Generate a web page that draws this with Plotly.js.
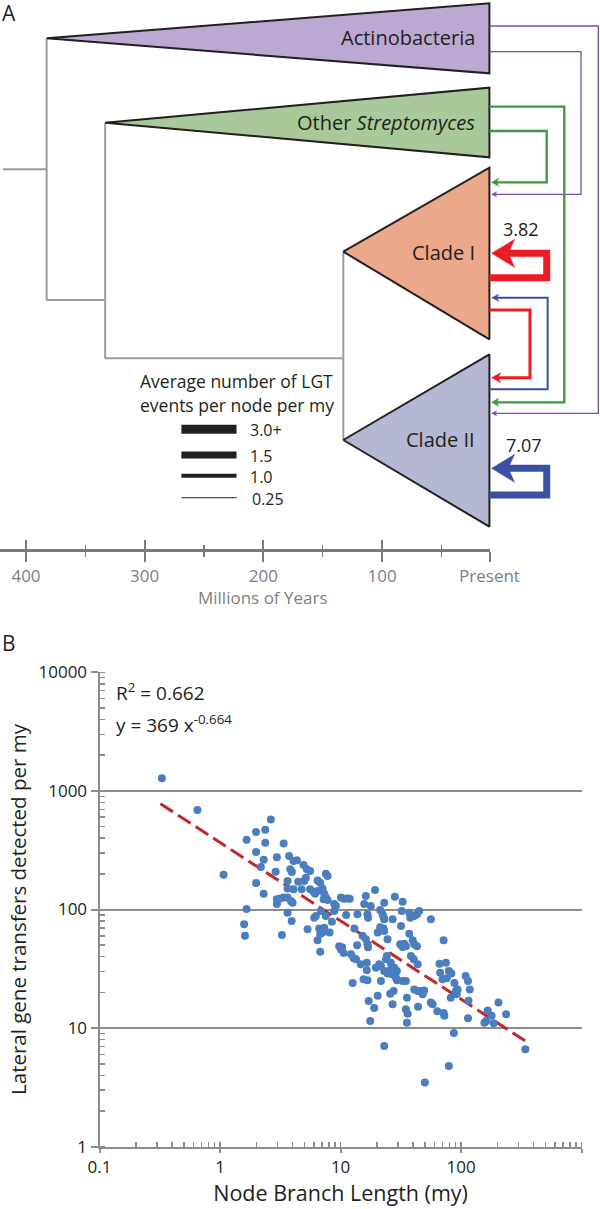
<!DOCTYPE html>
<html><head><meta charset="utf-8">
<script src="https://cdn.plot.ly/plotly-3.0.1.min.js"></script>
<style>html,body{margin:0;padding:0;background:#fff}#chart{width:600px;height:1209px}</style>
</head><body><div id="chart"></div>
<script>
// ---------------- Panel A : time-calibrated tree (x in millions of years) ----------------
const cladeNames = ['Actinobacteria', 'Other <i>Streptomyces</i>', 'Clade I', 'Clade II'];
const cladeFill = ['#BBA9D4', '#A9C99B', '#ECA88A', '#B4B8D2'];
const cladeOriginMy = [382.6, 333.3, 132.6, 132.6];
const presentMy = 9.5;
const cladeTop = [3.3, 87.7, 167.7, 354.3];
const cladeMid = [38.3, 122.7, 251.7, 440];
const cladeBottom = [73.3, 157.3, 339.3, 526.7];
const cladeLabelY = [37.5, 122, 252, 439];

const rootStubMy = 419.4, rootMy = 382.6, strepNodeMy = 333.3, cladeNodeMy = 132.6;
const treeX = [rootStubMy, rootMy, null, rootMy, rootMy, null, rootMy, strepNodeMy, null,
               strepNodeMy, strepNodeMy, null, strepNodeMy, cladeNodeMy, null, cladeNodeMy, cladeNodeMy];
const treeY = [169.3, 169.3, null, 38.3, 300, null, 300, 300, null,
               122.7, 358.3, null, 358.3, 358.3, null, 251.7, 440];

// lateral gene transfer arrows (donor row -> recipient row)
const lgtFromY = [26, 51.7, 106.7, 131, 277.7, 389.3, 310, 495];
const lgtToY = [413.3, 194.3, 402.3, 182.3, 253.3, 297.7, 377.7, 468.3];
const lgtElbowMy = [-82.3, -67.7, -53.6, -38.8, -38.8, -39.6, -24.7, -38.8];
const lgtColor = ['#7B4CA5', '#7B4CA5', '#3C9A3A', '#3C9A3A', '#EC1C24', '#3D4FA2', '#EC1C24', '#3D4FA2'];
const lgtWidth = [1.3, 1.3, 2.3, 2.3, 7, 2, 3, 7];
const lgtHeadLen = [5, 5, 7, 7, 23, 7, 9, 23];
const lgtHeadHalf = [2.5, 2.5, 4, 4, 14, 3.5, 5, 14];
const arrowTipMy = 7.6;
const selfRateText = ['3.82', '7.07'];
const selfRateY = [229, 445];
const selfRateMy = [-17.3, -19.8];

const legendRates = ['3.0+', '1.5', '1.0', '0.25'];
const legendWidths = [9, 7, 4, 1];
const legendY = [429.3, 455, 475.7, 497.7];
const legendLineMy = [269.05, 222.6];
const legendLabelMy = [212.1, 212.1, 212.1, 210.0];

const timeTicks = [400, 300, 200, 100, presentMy];
const timeTickText = ['400', '300', '200', '100', 'Present'];
const timeMinor = [350, 250, 150, 50];

// ---------------- Panel B : scatter (log-log) ----------------
const branchLength = [
 0.329,0.65,2.64,1.99,2.37,1.66,2.37,1.99,2.30,2.18,1.07,1.99,2.30,1.66,1.585,1.61,
 3.37,2.96,3.74,4.07,4.34,4.93,2.89,3.82,3.94,5.25,5.59,5.15,4.99,7.55,7.8,3.63,4.45,6.44,6.77,3.63,
 4.07,4.75,5.59,5.97,6.44,7.09,7.31,6.15,7.55,7.8,2.96,3.15,3.37,3.63,3.87,4.0,2.96,7.23,8.85,9.14,
 10.06,10.7,11.4,11.9,16.2,15.7,17.8,3.63,6.86,6.24,6.04,7.55,8.85,11.1,13.8,16.7,16.9,3.93,
 3.26,5.32,6.64,7.31,7.09,6.77,8.11,6.44,6.77,8.47,9.73,10.06,10.6,10.3,13,13.7,12.2,12.8,13.4,
 15.2,16.2,16.7,16.9,14.7,16.5,12.6,15.5,16.7,16.5,17.1,17.6,
 19.3,23,28.2,32.7,21.3,22.3,22.7,23,27,32.1,37.1,37.8,40.8,43,44.9,56.1,31.7,21.3,22.7,
 20.3,23,24.5,37.1,31.2,33.7,32.7,34.8,39.6,40.8,43,24.2,23.8,38.3,40.4,43.6,20.9,21.6,19.6,26.1,
 26.1,27.9,29.3,28.3,23,24.5,21.6,26.6,28.8,29.3,32.7,34.8,40.8,43.6,46.4,47.9,49.4,27.5,25.8,20.3,
 35.5,27,34.8,36,56,58,63.4,71.5,72.5,19,35.5,23,50,79,87,114,66.1,74.8,67,79,83,70,88,90.5,93.4,
 92,82,109,114,118,71.5,115,43.9,76,
 166,161,156,179,186,204,236,341];
const transfersPerMy = [
 1277,690,575,450,471,388,366,305,263,228,196,167,136,101,75,60,
 361,276,282,256,260,237,208,218,207,218,211,185,174,200,192,174,171,176,168,150,
 148,148,148,141,143,150,136,136,126,120,122,124,126,126,118,114,111,122,111,107,
 126,123,124,123,130,111,107,94,97,88,85,88,97,90,91,91,85,80,
 61,68,69,70,64,62,64,55,44,79,49,46,43,48,69,50,42,39,38,
 60,56,51,48,34.5,35.6,24,25.8,25.3,30.7,16.9,11.5,
 146,114,128,116,99,91,86.5,82.7,82.6,97,94,85,88,91,97,82.6,72.6,71,69,
 64,66,56,62.5,51,51.5,48.3,49,55,51,49,40.5,38,40.5,38,34.5,34.5,33.4,32.3,35.6,
 31.3,32.3,30.3,28.4,30.3,28.8,25,28.4,26.6,25.3,25,25,21.2,20.6,20.6,19.3,20.8,20.6,19.5,18.7,
 18,15.9,14.4,13.2,16.4,15.9,13.9,13.4,12.7,14.8,11.1,7.06,3.47,4.8,9.1,12.1,34.9,35.6,29.3,30.3,28.8,25.8,24,20.6,21.2,
 19.3,18,27.5,25,21.2,55,17,15.1,26.3,
 14.1,11.5,11.1,12.7,11.0,16.4,13.1,6.62];
const fitX = [0.32, 340];
const fitY = [780, 7.8];

// ---------------- build traces ----------------
const pxPerMy = 1.1867;
const traces = [];
traces.push({x: treeX, y: treeY, xaxis: 'x2', yaxis: 'y2', mode: 'lines',
  line: {color: '#9B9B9B', width: 2}, hoverinfo: 'skip'});
for (let i = 0; i < cladeNames.length; i++) {
  traces.push({x: [cladeOriginMy[i], presentMy, presentMy, cladeOriginMy[i]],
    y: [cladeMid[i], cladeTop[i], cladeBottom[i], cladeMid[i]],
    xaxis: 'x2', yaxis: 'y2', mode: 'lines', fill: 'toself', fillcolor: cladeFill[i],
    line: {color: '#231F20', width: 2}, hoverinfo: 'skip'});
}
for (let i = 0; i < lgtFromY.length; i++) {
  const L = lgtHeadLen[i] / pxPerMy, H = lgtHeadHalf[i];
  const back = arrowTipMy - L, notch = arrowTipMy - 0.72 * L;
  traces.push({x: [presentMy, lgtElbowMy[i], lgtElbowMy[i], notch],
    y: [lgtFromY[i], lgtFromY[i], lgtToY[i], lgtToY[i]],
    xaxis: 'x2', yaxis: 'y2', mode: 'lines', line: {color: lgtColor[i], width: lgtWidth[i]}, hoverinfo: 'skip'});
  traces.push({x: [arrowTipMy, back, notch, back, arrowTipMy],
    y: [lgtToY[i], lgtToY[i] - H, lgtToY[i], lgtToY[i] + H, lgtToY[i]],
    xaxis: 'x2', yaxis: 'y2', mode: 'lines', fill: 'toself', fillcolor: lgtColor[i],
    line: {color: lgtColor[i], width: 0.5}, hoverinfo: 'skip'});
}
for (let i = 0; i < legendRates.length; i++) {
  traces.push({x: legendLineMy, y: [legendY[i], legendY[i]], xaxis: 'x2', yaxis: 'y2',
    mode: 'lines', line: {color: '#231F20', width: legendWidths[i]}, hoverinfo: 'skip'});
}
// dummy traces so the time axes exist
traces.push({x: [200], y: [600], xaxis: 'x3', yaxis: 'y2', mode: 'markers', marker: {opacity: 0}, hoverinfo: 'skip'});
traces.push({x: [200], y: [600], xaxis: 'x4', yaxis: 'y2', mode: 'markers', marker: {opacity: 0}, hoverinfo: 'skip'});

traces.push({x: fitX, y: fitY, xaxis: 'x', yaxis: 'y', mode: 'lines',
  line: {color: '#C1272D', width: 3, dash: '15px,6px'}, hoverinfo: 'skip'});
traces.push({x: branchLength, y: transfersPerMy, xaxis: 'x', yaxis: 'y', mode: 'markers',
  marker: {color: '#4A7EBF', size: 8}, hoverinfo: 'x+y'});

// ---------------- annotations ----------------
const ann = [];
const dark = '#231F20';
ann.push({text: 'A', xref: 'paper', yref: 'paper', x: 0.0, y: 1 - 13 / 1209, xanchor: 'left', yanchor: 'middle',
  showarrow: false, font: {size: 21, color: dark}});
ann.push({text: 'B', xref: 'paper', yref: 'paper', x: 0.0, y: 1 - 643 / 1209, xanchor: 'left', yanchor: 'middle',
  showarrow: false, font: {size: 21, color: dark}});
for (let i = 0; i < cladeNames.length; i++) {
  ann.push({text: cladeNames[i], xref: 'x2', yref: 'y2', x: 19.6, y: cladeLabelY[i], xanchor: 'right', yanchor: 'middle',
    showarrow: false, font: {size: 20, color: dark}});
}
for (let i = 0; i < selfRateText.length; i++) {
  ann.push({text: selfRateText[i], xref: 'x2', yref: 'y2', x: selfRateMy[i], y: selfRateY[i], xanchor: 'center', yanchor: 'middle',
    showarrow: false, font: {size: 18, color: dark}});
}
ann.push({text: 'Average number of LGT', xref: 'x2', yref: 'y2', x: 222.2, y: 381, xanchor: 'center', yanchor: 'middle',
  showarrow: false, borderpad: 0, font: {size: 17.5, color: dark}});
ann.push({text: 'events per node per my', xref: 'x2', yref: 'y2', x: 222.2, y: 405, xanchor: 'center', yanchor: 'middle',
  showarrow: false, borderpad: 0, font: {size: 17.5, color: dark}});
for (let i = 0; i < legendRates.length; i++) {
  ann.push({text: legendRates[i], xref: 'x2', yref: 'y2', x: legendLabelMy[i], y: legendY[i] + 1, xanchor: 'left', yanchor: 'middle',
    showarrow: false, borderpad: 0, font: {size: 16, color: dark}});
}
ann.push({text: 'Millions of Years', xref: 'x3', yref: 'paper', x: 200, y: 1 - 597 / 1209, xanchor: 'center', yanchor: 'middle',
  showarrow: false, font: {size: 17, color: '#808080'}});
ann.push({text: 'R<sup>2</sup> = 0.662', xref: 'paper', yref: 'paper', x: 114 / 600, y: 1 - 692 / 1209, xanchor: 'left', yanchor: 'middle',
  showarrow: false, font: {size: 19, color: dark}});
ann.push({text: 'y = 369 x<sup>-0.664</sup>', xref: 'paper', yref: 'paper', x: 114 / 600, y: 1 - 724 / 1209, xanchor: 'left', yanchor: 'middle',
  showarrow: false, font: {size: 19, color: dark}});

const axGray = '#8C8C8C';
const timeGray = '#7A7A7A';
const layout = {
  width: 600, height: 1209, margin: {l: 0, r: 0, t: 0, b: 0}, showlegend: false,
  paper_bgcolor: '#ffffff', plot_bgcolor: 'rgba(0,0,0,0)',
  font: {family: 'Open Sans, sans-serif', color: dark},
  xaxis: {domain: [99.5 / 600, 581.7 / 600], type: 'log', range: [-1, 3], anchor: 'y',
    showline: true, linecolor: axGray, linewidth: 2, showgrid: false, zeroline: false,
    ticks: 'outside', ticklen: 4, tickwidth: 2, tickcolor: axGray, dtick: 1, exponentformat: 'none',
    tickfont: {size: 17, color: dark},
    minor: {ticks: 'inside', ticklen: 5, tickwidth: 1.5, tickcolor: axGray, dtick: 'D1', showgrid: false},
    title: {text: 'Node Branch Length (my)', font: {size: 21.5, color: dark}, standoff: 8}},
  yaxis: {domain: [(1209 - 1146.7) / 1209, (1209 - 672.3) / 1209], type: 'log', range: [0, 4], anchor: 'x',
    showline: true, linecolor: axGray, linewidth: 2, showgrid: true, gridcolor: axGray, gridwidth: 2, zeroline: false,
    ticks: 'outside', ticklen: 7, tickwidth: 2, tickcolor: axGray, dtick: 1, tickformat: '.0f',
    tickfont: {size: 17, color: dark},
    minor: {ticks: 'inside', ticklen: 5, tickwidth: 1.5, tickcolor: axGray, dtick: 'D1', showgrid: false},
    title: {text: 'Lateral gene transfers detected per my', font: {size: 20.5, color: dark}, standoff: 6}},
  xaxis2: {domain: [0, 1], range: [421.9, -83.7], visible: false, anchor: 'y2', fixedrange: true},
  yaxis2: {domain: [0.5, 1], range: [604.5, 0], visible: false, anchor: 'x2', fixedrange: true},
  xaxis3: {domain: [0, 489.5 / 600], range: [421.9, presentMy], anchor: 'free', position: 1 - 550 / 1209,
    showline: true, linecolor: timeGray, linewidth: 2.5, showgrid: false, zeroline: false,
    ticks: 'outside', ticklen: 10, tickwidth: 2, tickcolor: timeGray,
    tickmode: 'array', tickvals: timeTicks, ticktext: timeTickText, tickfont: {size: 17, color: '#808080'},
    minor: {ticks: 'outside', ticklen: 5, tickwidth: 1.5, tickcolor: timeGray, tickmode: 'array', tickvals: timeMinor}},
  xaxis4: {overlaying: 'x3', range: [421.9, presentMy], anchor: 'free', position: 1 - 550 / 1209,
    showline: false, showgrid: false, zeroline: false, showticklabels: false,
    ticks: 'inside', ticklen: 10, tickwidth: 2, tickcolor: timeGray, tickmode: 'array', tickvals: timeTicks,
    minor: {ticks: 'inside', ticklen: 5, tickwidth: 1.5, tickcolor: timeGray, tickmode: 'array', tickvals: timeMinor}},
  annotations: ann
};
Plotly.newPlot('chart', traces, layout, {displayModeBar: false, staticPlot: true});
</script>
</body></html>
